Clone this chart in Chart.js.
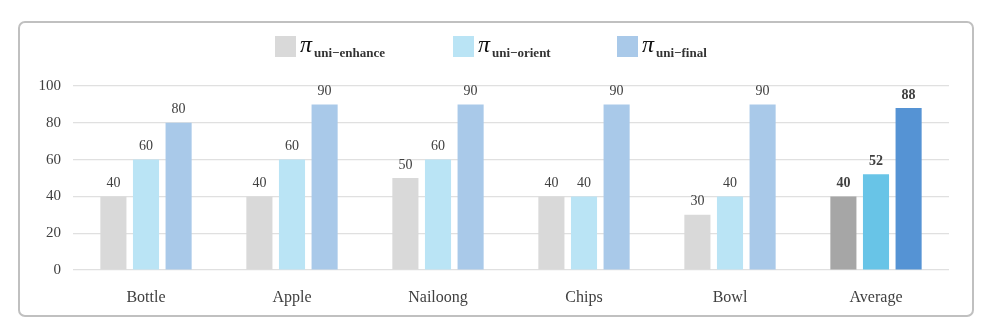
<!DOCTYPE html>
<html>
<head>
<meta charset="utf-8">
<script src="https://cdn.jsdelivr.net/npm/chart.js@4"></script>
<style>
  html, body { margin: 0; padding: 0; background: #fff; }
  #wrap { position: relative; width: 985px; height: 333px; }
  #frame {
    position: absolute; left: 18px; top: 21px; width: 952px; height: 292px;
    border: 2px solid #c0c0c0; border-radius: 7px; pointer-events: none;
  }
  canvas { position: absolute; left: 0; top: 0; }
</style>
</head>
<body>
<div id="wrap">
  <div id="frame"></div>
  <canvas id="chart" width="985" height="333"></canvas>
</div>
<script>
const categories = ["Bottle", "Apple", "Nailoong", "Chips", "Bowl", "Average"];
const enhanceScores = [40, 40, 50, 40, 30, 40];
const orientScores = [60, 60, 60, 40, 40, 52];
const finalScores = [80, 90, 90, 90, 90, 88];
const yTicks = [0, 20, 40, 60, 80, 100];

const seriesNames = ["uni\u2212enhance", "uni\u2212orient", "uni\u2212final"];
const baseColors = ["#d9d9d9", "#bae4f5", "#a9c9e9"];
const avgColors = ["#a6a6a6", "#68c4e7", "#5593d4"];

// the Average group uses darker shades of each series colour
function colorsFor(i) {
    return categories.map((c, k) => k === categories.length - 1 ? avgColors[i] : baseColors[i]);
}

const serif = "'Liberation Serif', 'Times New Roman', serif";

const valueLabels = {
    id: "valueLabels",
    afterDatasetsDraw(chart) {
        const ctx = chart.ctx;
        ctx.save();
        ctx.textAlign = "center";
        ctx.textBaseline = "bottom";
        ctx.fillStyle = "#404040";
        chart.data.datasets.forEach((ds, i) => {
            chart.getDatasetMeta(i).data.forEach((bar, k) => {
                const bold = k === categories.length - 1;
                ctx.font = (bold ? "bold " : "") + "14px " + serif;
                ctx.fillText(ds.data[k], bar.x, bar.y - 6);
            });
        });
        ctx.restore();
    }
};

const piLegend = {
    id: "piLegend",
    afterDraw(chart) {
        const ctx = chart.ctx;
        const xs = [275, 453, 617];
        ctx.save();
        xs.forEach((x, i) => {
            ctx.fillStyle = baseColors[i];
            ctx.fillRect(x, 36, 21, 21);
            ctx.fillStyle = "#111";
            ctx.textBaseline = "alphabetic";
            ctx.textAlign = "left";
            ctx.font = "italic 24px " + serif;
            ctx.fillText("\u03c0", x + 25, 52);
            ctx.font = "bold 13px " + serif;
            ctx.fillStyle = "#333";
            ctx.fillText(seriesNames[i], x + 39, 57);
        });
        ctx.restore();
    }
};

new Chart(document.getElementById("chart"), {
    type: "bar",
    data: {
        labels: categories,
        datasets: [
            { label: seriesNames[0], data: enhanceScores, backgroundColor: colorsFor(0) },
            { label: seriesNames[1], data: orientScores, backgroundColor: colorsFor(1) },
            { label: seriesNames[2], data: finalScores, backgroundColor: colorsFor(2) }
        ]
    },
    options: {
        responsive: false,
        animation: false,
        layout: { padding: { left: 20, right: 36, top: 86, bottom: 0 } },
        datasets: { bar: { categoryPercentage: 0.67, barPercentage: 0.8 } },
        plugins: { legend: { display: false }, tooltip: { enabled: false } },
        scales: {
            x: {
                grid: { display: false },
                border: { display: false },
                ticks: { color: "#404040", font: { family: serif, size: 16 }, padding: 10 },
                afterFit: s => { s.height = 63; }
            },
            y: {
                min: 0,
                max: 100,
                afterBuildTicks: s => { s.ticks = yTicks.map(v => ({ value: v })); },
                grid: { color: "#e0e0e0", lineWidth: 1.2, drawTicks: false },
                border: { display: false },
                ticks: { color: "#404040", font: { family: serif, size: 15 }, padding: 12 },
                afterFit: s => { s.width = 53; }
            }
        }
    },
    plugins: [valueLabels, piLegend]
});
</script>
</body>
</html>
